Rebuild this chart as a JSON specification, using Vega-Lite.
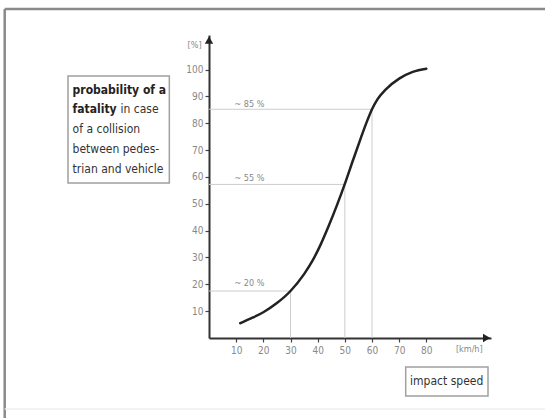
{
  "$schema": "https://vega.github.io/schema/vega-lite/v6.json",
  "autosize": {"type": "none"},
  "width": 282,
  "height": 303,
  "padding": {"left": 209, "top": 35, "right": 54, "bottom": 80},
  "background": "white",
  "config": {"view": {"stroke": null}, "font": "DejaVu Sans Condensed, Liberation Sans, sans-serif"},
  "datasets": {
    "curve": [
      {"x": 11.5, "y": 5.5}, {"x": 15, "y": 7.1}, {"x": 20, "y": 9.6}, {"x": 25, "y": 13},
      {"x": 30, "y": 17.5}, {"x": 35, "y": 23.8}, {"x": 38, "y": 28.6}, {"x": 41, "y": 34.6},
      {"x": 44, "y": 41.6}, {"x": 47, "y": 49.2}, {"x": 50, "y": 57.4}, {"x": 53, "y": 66.2},
      {"x": 56, "y": 74.8}, {"x": 58, "y": 80.3}, {"x": 60, "y": 85.2}, {"x": 62, "y": 88.9},
      {"x": 65, "y": 92.5}, {"x": 70, "y": 96.6}, {"x": 75, "y": 99.1}, {"x": 80, "y": 100.3}
    ],
    "guides": [
      {"x": 0, "x2": 30, "y": 17.5, "y2": 17.5},
      {"x": 30, "x2": 30, "y": 0, "y2": 17.5},
      {"x": 0, "x2": 50, "y": 57.2, "y2": 57.2},
      {"x": 50, "x2": 50, "y": 0, "y2": 57.2},
      {"x": 0, "x2": 60, "y": 85.2, "y2": 85.2},
      {"x": 60, "x2": 60, "y": 0, "y2": 85.2}
    ],
    "frame": [
      {"x": -75.2, "x2": 124, "y": 122.5, "y2": 122.5},
      {"x": -75.2, "x2": -75.2, "y": 122.5, "y2": -30}
    ],
    "frameLight": [
      {"x": -75.2, "x2": 124, "y": -26.4, "y2": -26.4}
    ],
    "boxes": [
      {"x": -51.9, "x2": -14.6, "y": 97.6, "y2": 57.7},
      {"x": 72.4, "x2": 102.7, "y": -10.8, "y2": -21.6}
    ],
    "arrowUp": [{"x": 0, "y": 110.9}],
    "arrowRight": [{"x": 102.2, "y": 0}],
    "small": [
      {"x": 14.9, "y": 87.2, "text": "~ 85 %"},
      {"x": 14.9, "y": 59.6, "text": "~ 55 %"},
      {"x": 14.9, "y": 20.5, "text": "~ 20 %"},
      {"x": -5.3, "y": 109.1, "text": "[%]"},
      {"x": 95.8, "y": -4.1, "text": "[km/h]"}
    ],
    "boxNormal": [
      {"x": -32.6, "y": 85.3, "text": "in case"},
      {"x": -50.2, "y": 77.8, "text": "of a collision"},
      {"x": -50.2, "y": 70.4, "text": "between pedes-"},
      {"x": -50.2, "y": 62.9, "text": "trian and vehicle"}
    ],
    "boxBold": [
      {"x": -50.2, "y": 92.4, "text": "probability of a"},
      {"x": -50.2, "y": 85.3, "text": "fatality"}
    ],
    "speed": [{"x": 87.5, "y": -16.1, "text": "impact speed"}]
  },
  "encoding": {
    "x": {
      "field": "x", "type": "quantitative",
      "scale": {"domain": [0, 103.8], "nice": false, "zero": false},
      "axis": {
        "title": null, "values": [10, 20, 30, 40, 50, 60, 70, 80], "grid": false,
        "domainColor": "#333", "domainWidth": 2, "tickColor": "#444", "tickSize": 4, "tickWidth": 1.2,
        "labelColor": "#888", "labelFontSize": 10, "labelPadding": 3,
        "labelFont": "DejaVu Sans Condensed, sans-serif"
      }
    },
    "y": {
      "field": "y", "type": "quantitative",
      "scale": {"domain": [0, 112.85], "nice": false, "zero": false},
      "axis": {
        "title": null, "values": [10, 20, 30, 40, 50, 60, 70, 80, 90, 100], "grid": false,
        "domainColor": "#333", "domainWidth": 2, "tickColor": "#444", "tickSize": 4, "tickWidth": 1.2,
        "labelColor": "#888", "labelFontSize": 10, "labelPadding": 2,
        "labelFont": "DejaVu Sans Condensed, sans-serif"
      }
    }
  },
  "layer": [
    {
      "data": {"name": "frame"},
      "mark": {"type": "rule", "color": "#8a8a8a", "strokeWidth": 2.5},
      "encoding": {"x2": {"field": "x2"}, "y2": {"field": "y2"}}
    },
    {
      "data": {"name": "frameLight"},
      "mark": {"type": "rule", "color": "#eeeeee", "strokeWidth": 1.5},
      "encoding": {"x2": {"field": "x2"}, "y2": {"field": "y2"}}
    },
    {
      "data": {"name": "boxes"},
      "mark": {"type": "rect", "fill": "white", "stroke": "#a0a0a0", "strokeWidth": 1.5},
      "encoding": {"x2": {"field": "x2"}, "y2": {"field": "y2"}}
    },
    {
      "data": {"name": "guides"},
      "mark": {"type": "rule", "color": "#cccccc", "strokeWidth": 1},
      "encoding": {"x2": {"field": "x2"}, "y2": {"field": "y2"}}
    },
    {
      "data": {"name": "curve"},
      "mark": {"type": "line", "color": "#222", "strokeWidth": 2.5, "interpolate": "monotone", "strokeCap": "round"}
    },
    {
      "data": {"name": "arrowUp"},
      "mark": {"type": "point", "shape": "triangle-up", "filled": true, "color": "#222", "size": 70, "opacity": 1}
    },
    {
      "data": {"name": "arrowRight"},
      "mark": {"type": "point", "shape": "triangle-right", "filled": true, "color": "#222", "size": 70, "opacity": 1}
    },
    {
      "data": {"name": "small"},
      "mark": {"type": "text", "color": "#888", "fontSize": 9, "align": "center", "baseline": "middle"},
      "encoding": {"text": {"field": "text"}}
    },
    {
      "data": {"name": "boxNormal"},
      "mark": {"type": "text", "color": "#333", "fontSize": 12, "align": "left", "baseline": "middle"},
      "encoding": {"text": {"field": "text"}}
    },
    {
      "data": {"name": "boxBold"},
      "mark": {"type": "text", "color": "#222", "fontSize": 12, "fontWeight": "bold", "align": "left", "baseline": "middle"},
      "encoding": {"text": {"field": "text"}}
    },
    {
      "data": {"name": "speed"},
      "mark": {"type": "text", "color": "#333", "fontSize": 12, "align": "center", "baseline": "middle"},
      "encoding": {"text": {"field": "text"}}
    }
  ]
}
